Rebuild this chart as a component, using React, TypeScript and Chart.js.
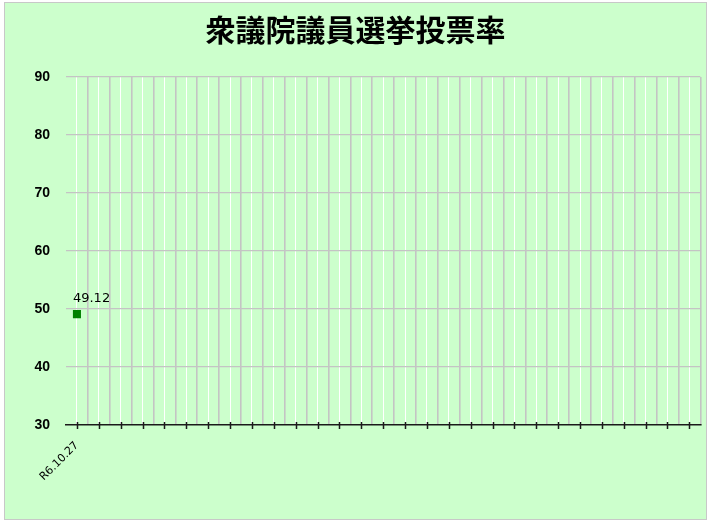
import React, { useEffect, useRef } from "react";
import { Chart, registerables } from "chart.js";

Chart.register(...registerables);

const title = "衆議院議員選挙投票率";

// election dates (only the first has a result so far)
const categories = [
  "R6.10.27", "", "", "", "", "", "", "", "", "",
  "", "", "", "", "", "", "", "", "", "",
  "", "", "", "", "", "", "", "", "",
];

const turnout = [49.12];

const yMin = 30;
const yMax = 90;
const yStep = 10;

const titlePlugin = {
  id: "titleText",
  afterDraw(chart: Chart) {
    const { ctx, width } = chart;
    ctx.save();
    ctx.font = "bold 30px 'Noto Sans CJK JP'";
    ctx.fillStyle = "#000";
    ctx.textAlign = "center";
    ctx.textBaseline = "middle";
    ctx.fillText(title, width / 2, 27);
    ctx.restore();
  },
};

// small tick marks crossing the bottom axis line
const crossTicks = {
  id: "crossTicks",
  afterDatasetsDraw(chart: Chart) {
    const { ctx, chartArea } = chart;
    const x = chart.scales.x;
    ctx.save();
    ctx.strokeStyle = "#1a1a1a";
    ctx.lineWidth = 1.5;
    ctx.beginPath();
    for (let i = 0; i < categories.length; i++) {
      const px = Math.round(x.getPixelForValue(i)) + 0.5;
      ctx.moveTo(px, chartArea.bottom - 3);
      ctx.lineTo(px, chartArea.bottom + 4);
    }
    ctx.stroke();
    ctx.restore();
  },
};

const valueLabels = {
  id: "valueLabels",
  afterDatasetsDraw(chart: Chart) {
    const { ctx } = chart;
    const meta = chart.getDatasetMeta(0);
    ctx.save();
    ctx.font = "13px 'DejaVu Sans'";
    ctx.fillStyle = "#000";
    ctx.textAlign = "left";
    ctx.textBaseline = "middle";
    meta.data.forEach((pt, i) => {
      if (turnout[i] == null) return;
      ctx.fillText(turnout[i].toFixed(2), pt.x - 4, pt.y - 15);
    });
    ctx.restore();
  },
};

function TurnoutChart() {
  const canvasRef = useRef<HTMLCanvasElement | null>(null);

  useEffect(() => {
    if (!canvasRef.current) return;
    const chart = new Chart(canvasRef.current, {
      type: "line",
      data: {
        labels: categories,
        datasets: [
          {
            label: "投票率",
            data: turnout,
            borderColor: "#008000",
            backgroundColor: "#008000",
            pointStyle: "rect",
            pointRadius: 5.7,
            pointBorderWidth: 0,
            showLine: false,
          },
        ],
      },
      options: {
        animation: false,
        responsive: false,
        layout: { padding: { top: 74, right: 5, left: 0, bottom: 0 } },
        plugins: {
          legend: { display: false },
          tooltip: { enabled: false },
          title: { display: false },
        },
        scales: {
          x: {
            type: "category",
            offset: true,
            grid: {
              offset: true,
              drawTicks: false,
              lineWidth: 1.6,
              color: (c) => (c.index === 0 ? "rgba(0,0,0,0)" : "#c4c4c4"),
            },
            border: { display: true, color: "#1a1a1a", width: 1.5 },
            ticks: {
              autoSkip: false,
              maxRotation: 45,
              minRotation: 45,
              padding: 14,
              color: "#000",
              font: { family: "DejaVu Sans", size: 11 },
            },
            afterFit: (s) => {
              s.height = 94;
              s.paddingLeft = 0;
              s.paddingRight = 0;
            },
          },
          x2: {
            type: "category",
            position: "bottom",
            offset: true,
            grid: { offset: false, drawTicks: false, color: "#ffffff" },
            border: { display: false },
            ticks: { display: false },
            afterFit: (s) => {
              s.height = 0;
              s.paddingLeft = 0;
              s.paddingRight = 0;
            },
          },
          y: {
            min: yMin,
            max: yMax,
            ticks: {
              stepSize: yStep,
              padding: 16,
              color: "#000",
              font: { family: "Liberation Sans", size: 14, weight: "bold" },
            },
            grid: {
              drawTicks: false,
              lineWidth: 1.3,
              color: (c) => (c.tick && c.tick.value === yMin ? "rgba(0,0,0,0)" : "#c4c4c4"),
            },
            border: { display: false },
            afterFit: (s) => {
              s.width = 61;
            },
          },
        },
      },
      plugins: [titlePlugin, crossTicks, valueLabels],
    });
    return () => chart.destroy();
  }, []);

  return <canvas ref={canvasRef} width={701} height={516} style={{ display: "block" }} />;
}

export default function App() {
  return (
    <div
      style={{
        position: "absolute",
        left: 4,
        top: 2,
        width: 703,
        height: 518,
        boxSizing: "border-box",
        border: "1px solid #c8c8c8",
        background: "#ccffcc",
      }}
    >
      <TurnoutChart />
    </div>
  );
}
